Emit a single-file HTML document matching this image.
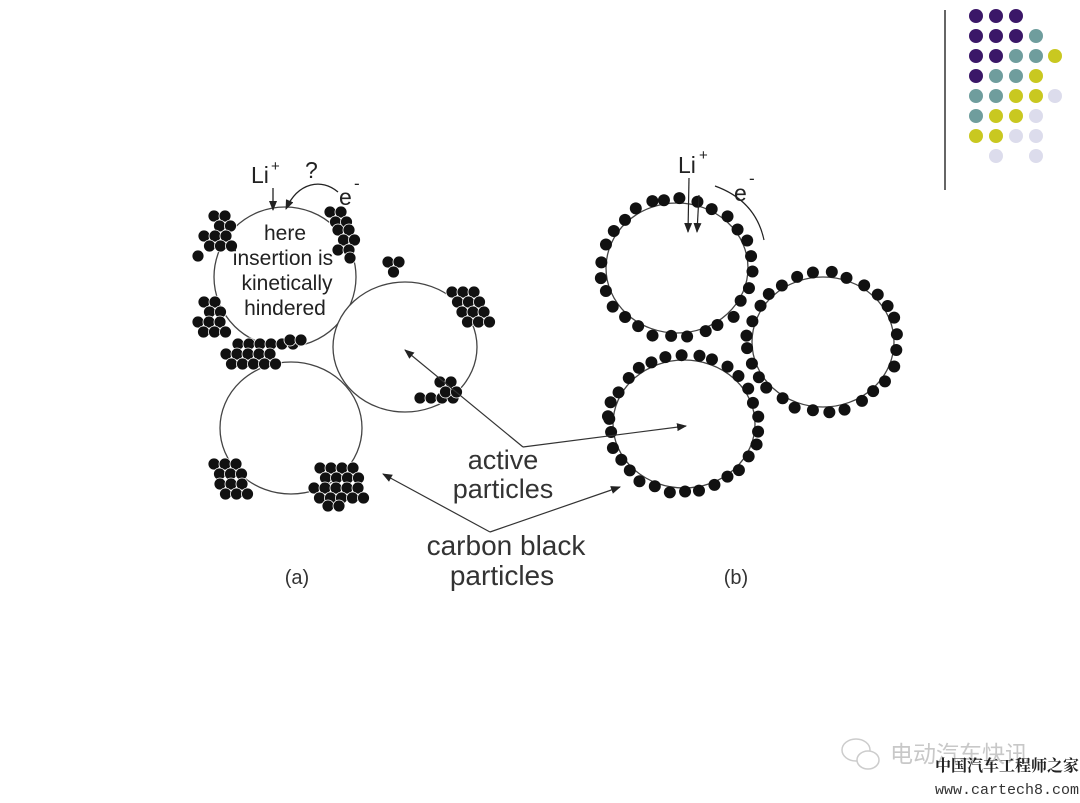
<!DOCTYPE html>
<html><head><meta charset="utf-8"><style>
html,body{margin:0;padding:0;background:#fff;}
svg{display:block;}
text{font-family:"Liberation Sans",Arial,sans-serif;fill:#222;}
</style></head><body>
<svg id="s" width="1080" height="803" viewBox="0 0 1080 803" xmlns="http://www.w3.org/2000/svg">
<defs>
<marker id="ah" markerWidth="10" markerHeight="8" refX="9" refY="4" orient="auto" markerUnits="userSpaceOnUse"><path d="M0,0 L10,4 L0,8 z" fill="#222"/></marker>
</defs>
<line x1="945" y1="10" x2="945" y2="190" stroke="#333" stroke-width="1.5"/>
<g id="deco"></g>
<g fill="#fff" stroke="#444" stroke-width="1.3">
<ellipse cx="285" cy="277" rx="71" ry="70"/>
<ellipse cx="405" cy="347" rx="72" ry="65"/>
<ellipse cx="291" cy="428" rx="71" ry="66"/>
<ellipse cx="677" cy="268" rx="71" ry="65"/>
<ellipse cx="823" cy="342" rx="71" ry="65"/>
<ellipse cx="684" cy="424" rx="71" ry="64"/>
</g>
<g id="dots2"></g>
<g font-size="21" text-anchor="middle">
<text x="285" y="240">here</text>
<text x="283" y="265">insertion is</text>
<text x="287" y="290">kinetically</text>
<text x="285" y="315">hindered</text>
</g>
<text x="251" y="183" font-size="23">Li</text><text x="271" y="171" font-size="15">+</text>
<text x="305" y="178" font-size="23">?</text>
<text x="339" y="205" font-size="23">e</text><text x="354" y="189" font-size="17">-</text>
<line x1="273" y1="188" x2="273" y2="210" stroke="#222" stroke-width="1.3" marker-end="url(#ah)"/>
<path d="M338,192 C322,178 298,182 286,209" fill="none" stroke="#222" stroke-width="1.3" marker-end="url(#ah)"/>
<text x="678" y="173" font-size="23">Li</text><text x="699" y="160" font-size="15">+</text>
<text x="734" y="201" font-size="23">e</text><text x="749" y="184" font-size="17">-</text>
<line x1="689" y1="178" x2="688" y2="232" stroke="#222" stroke-width="1.2" marker-end="url(#ah)"/>
<line x1="699" y1="195" x2="697" y2="232" stroke="#222" stroke-width="1.2" marker-end="url(#ah)"/>
<path d="M715,186 C740,195 758,212 764,240" fill="none" stroke="#222" stroke-width="1.2"/>
<g stroke="#333" stroke-width="1.2" fill="none">
<line x1="523" y1="447" x2="405" y2="350" marker-end="url(#ah)"/>
<line x1="523" y1="447" x2="686" y2="426" marker-end="url(#ah)"/>
<line x1="490" y1="532" x2="383" y2="474" marker-end="url(#ah)"/>
<line x1="490" y1="532" x2="620" y2="487" marker-end="url(#ah)"/>
</g>
<g font-size="27" text-anchor="middle">
<text x="503" y="469" style="fill:#333">active</text>
<text x="503" y="498" style="fill:#333">particles</text>
<text x="506" y="555" font-size="28" style="fill:#333">carbon black</text>
<text x="502" y="585" font-size="28" style="fill:#333">particles</text>
<text x="297" y="584" font-size="20" style="fill:#333">(a)</text>
<text x="736" y="584" font-size="20" style="fill:#333">(b)</text>
</g>
<g>
<ellipse cx="856" cy="750" rx="14" ry="11" fill="none" stroke="#ccc" stroke-width="1.5"/>
<ellipse cx="868" cy="760" rx="11" ry="9" fill="#fff" stroke="#ccc" stroke-width="1.5"/>
<text x="890" y="762" font-size="23" style="fill:#c8c8c8;font-family:'Liberation Sans','Noto Sans CJK SC',sans-serif">电动汽车快讯</text>
<text x="935" y="771" font-size="16" font-weight="bold" style="fill:#222;font-family:'Noto Serif CJK SC',serif">中国汽车工程师之家</text>
<text x="935" y="794" font-size="15" style="fill:#333;font-family:'Liberation Mono',monospace">www.cartech8.com</text>
</g>
</svg>
<script>
var NS="http://www.w3.org/2000/svg";
function c(g,x,y,r,f,st){var e=document.createElementNS(NS,"circle");e.setAttribute("cx",x);e.setAttribute("cy",y);e.setAttribute("r",r);e.setAttribute("fill",f);if(st){e.setAttribute("stroke","#fff");e.setAttribute("stroke-width","0.8");}document.getElementById(g).appendChild(e);}
var P="#3b1768",T="#6f9d9d",Y="#c9c820",L="#dcdcec",xs=[976,996,1016,1036,1055];
var rows=[[P,P,P],[P,P,P,T],[P,P,T,T,Y],[P,T,T,Y],[T,T,Y,Y,L],[T,Y,Y,L],[Y,Y,L,L],[0,L,0,L]];
rows.forEach(function(r,i){r.forEach(function(col,j){if(col)c("deco",xs[j],16+i*20,7,col);});});
function blob(x0,y0,cols,rowsN,skip){for(var j=0;j<rowsN;j++)for(var i=0;i<cols;i++){var k=j*cols+i;if(skip&&skip.indexOf(k)>=0)continue;c("dots2",x0+i*11+(j%2)*5.5,y0+j*10,6,"#111",1);}}
blob(214,216,2,2);blob(204,236,3,2);blob(198,256,1,1);
blob(330,212,2,2);blob(338,230,2,3);blob(350,258,1,1);
blob(204,302,2,2);blob(198,322,3,2);
blob(238,344,6,1);blob(226,354,6,2,[5,11]);blob(290,340,2,1);
blob(388,262,2,2,[3]);
blob(452,292,3,2);blob(462,312,3,2);
blob(420,398,4,1);blob(440,382,2,2);
blob(214,464,3,2);blob(220,484,3,2);
blob(320,468,4,2);blob(314,488,5,2);blob(328,506,2,1);
var seed=7;function rnd(){seed=(seed*9301+49297)%233280;return seed/233280;}
function ring(cx,cy,rx,ry,a0,a1,step){for(var a=a0;a<=a1;a+=step){var t=a*Math.PI/180;c("dots2",cx+(rx+4)*Math.cos(t)+(rnd()-0.5)*4,cy+(ry+4)*Math.sin(t)+(rnd()-0.5)*4,6,"#111");}}
ring(677,268,71,65,-100,260,13);
ring(823,342,71,65,-175,185,13);
ring(684,424,71,64,-175,185,12);
</script>
</body></html>
